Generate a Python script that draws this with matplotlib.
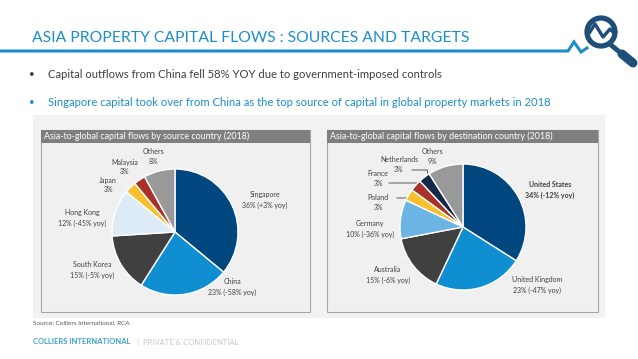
import numpy as np
import matplotlib
matplotlib.use('Agg')
import matplotlib.pyplot as plt
from matplotlib.patches import Rectangle, Circle

plt.rcParams['font.family'] = ['Lato', 'DejaVu Sans']

# data
src_names = ['Singapore', 'China', 'South Korea', 'Hong Kong', 'Japan', 'Malaysia', 'Others']
src_share = [36, 23, 15, 12, 3, 3, 8]
src_yoy = ['+3%', '-58%', '-5%', '-45%', None, None, None]

dst_names = ['United States', 'United Kingdom', 'Australia', 'Germany', 'Poland', 'France',
             'Netherlands', 'Others']
dst_share = [34, 23, 15, 10, 3, 3, 3, 9]
dst_yoy = ['-12%', '-47%', '-6%', '-36%', None, None, None, None]

NAVY = '#00467f'
BLUE = '#0f8fd1'
DGRAY = '#404040'
YELLOW = '#f9c02e'
RED = '#a8322a'
GRAY = '#999999'
src_colors = [NAVY, BLUE, DGRAY, '#ddebf7', YELLOW, RED, GRAY]
dst_colors = [NAVY, BLUE, DGRAY, '#6cb4e4', YELLOW, RED, '#14284b', GRAY]

# label positions in pixels (layout only)
src_lbl = [(265, 200), (232, 287), (92, 270), (82, 218), (108, 185), (125, 167), (153, 157)]
dst_lbl = [(550, 190), (537, 285), (388, 275), (370, 229), (378, 203), (378, 179), (399, 164), (432, 157)]
dst_leader = {4: (397, 198), 5: (389, 183), 6: (412, 170)}

W, H = 638, 359
fig = plt.figure(figsize=(W / 100, H / 100), dpi=100)
bg = fig.add_axes([0, 0, 1, 1])
bg.set_xlim(0, W)
bg.set_ylim(H, 0)
bg.axis('off')

TITLE_BLUE = '#1b8ecb'
LOGO = '#1f4e79'
bg.text(32, 38, 'ASIA PROPERTY CAPITAL FLOWS : SOURCES AND TARGETS', color=TITLE_BLUE,
        fontsize=11.3, va='center', ha='left')
bg.plot([0, 568, 574, 581, 587], [51, 51, 42, 52, 48], color=TITLE_BLUE, lw=2.2,
        solid_joinstyle='miter')

# logo
bg.add_patch(Circle((601, 32), 14, fill=False, ec=LOGO, lw=3.8))
bg.plot([588, 595, 603, 610, 614], [35, 24, 37, 29, 33], color=LOGO, lw=2.4)
bg.plot([611, 628], [45, 59], color=LOGO, lw=3.5, solid_capstyle='round')
bg.plot([622, 633], [54, 63], color=LOGO, lw=6.5, solid_capstyle='round')

bg.text(29, 75, '•', fontsize=7, color='#404040', va='center')
bg.text(48, 75, 'Capital outflows from China fell 58% YOY due to government-imposed controls',
        fontsize=8.1, color='#404040', va='center')
bg.text(29, 103, '•', fontsize=7, color=TITLE_BLUE, va='center')
bg.text(48, 103, 'Singapore capital took over from China as the top source of capital in global property markets in 2018',
        fontsize=8.1, color=TITLE_BLUE, va='center')

# panel backgrounds
bg.add_patch(Rectangle((33, 115), 572, 203, fc='#f2f2f2', ec='none'))
for x0, x1, title in [(41, 310, 'Asia-to-global capital flows by source country (2018)'),
                      (327, 598, 'Asia-to-global capital flows by destination country (2018)')]:
    bg.add_patch(Rectangle((x0, 130), x1 - x0, 182, fc='#f0f0f0', ec='#a6a6a6', lw=0.8))
    bg.add_patch(Rectangle((x0, 130), x1 - x0, 12.5, fc='#7f7f7f', ec='none'))
    bg.text(x0 + 3, 136.5, title, color='white', fontsize=6.4, va='center')

bg.text(33, 323, 'Source: Colliers International, RCA', fontsize=4.6, color='#595959', va='center')
bg.text(33, 342, 'COLLIERS INTERNATIONAL', fontsize=5.5, color='#3aa0cf', va='center',
        fontweight='bold')
bg.text(137, 342, '|  PRIVATE & CONFIDENTIAL', fontsize=5.5, color='#c8c8c8', va='center')


def draw_pie(cx, cy, r, shares, colors):
    ax = fig.add_axes([(cx - r) / W, (H - cy - r) / H, 2 * r / W, 2 * r / H])
    wedges, _ = ax.pie(shares, colors=colors, startangle=90, counterclock=False, radius=1,
                       wedgeprops=dict(edgecolor='white', linewidth=1))
    ax.set_xlim(-1, 1)
    ax.set_ylim(-1, 1)
    ax.axis('off')
    return wedges


def label(name, share, yoy):
    s = f'{share}%' if yoy is None else f'{share}% ({yoy} yoy)'
    return f'{name}\n{s}'


draw_pie(175, 232, 63, src_share, src_colors)
for i, (n, s, y) in enumerate(zip(src_names, src_share, src_yoy)):
    bg.text(*src_lbl[i], label(n, s, y), fontsize=5, color='#404040', ha='center', va='center',
            linespacing=1.5)

cx2, cy2, r2 = 463, 227, 63
wedges = draw_pie(cx2, cy2, r2, dst_share, dst_colors)
for i, (n, s, y) in enumerate(zip(dst_names, dst_share, dst_yoy)):
    bg.text(*dst_lbl[i], label(n, s, y), fontsize=5, color='#404040', ha='center', va='center',
            linespacing=1.5, fontweight='bold' if i == 0 else 'normal')
    if i in dst_leader:
        w = wedges[i]
        ang = np.deg2rad((w.theta1 + w.theta2) / 2)
        ex = cx2 + 0.85 * r2 * np.cos(ang)
        ey = cy2 - 0.85 * r2 * np.sin(ang)
        lx, ly = dst_leader[i]
        bg.plot([lx, ex - 3, ex], [ly, ly, ey], color='#404040', lw=0.6)

fig.savefig('out.png', dpi=100)
